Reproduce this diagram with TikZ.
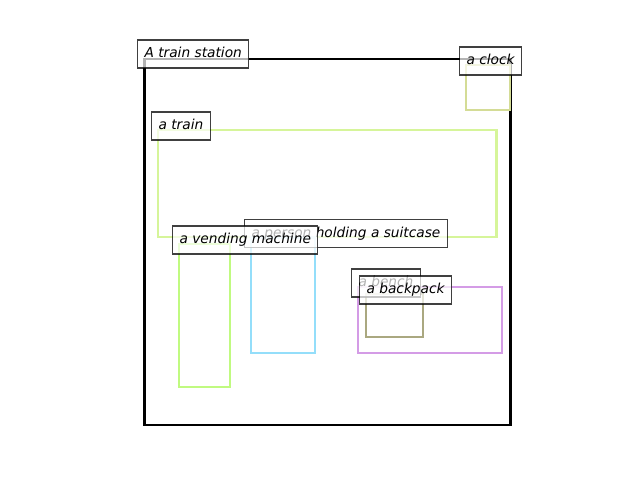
\documentclass[tikz,border=0pt]{standalone}
\usepackage{fontspec}
\setmainfont{DejaVu Sans}
\newfontfamily\labfont{DejaVu Sans Oblique}
\definecolor{cstation}{RGB}{0,0,0}
\definecolor{cclock}{RGB}{212,220,150}
\definecolor{ctrain}{RGB}{214,245,154}
\definecolor{cvend}{RGB}{192,250,128}
\definecolor{cperson}{RGB}{148,222,250}
\definecolor{cbench}{RGB}{212,156,230}
\definecolor{cpack}{RGB}{170,168,128}
\tikzset{
  objbox/.style={line width=1.8pt, line join=miter},
  lab/.style={anchor=west, draw=black, draw opacity=0.75, fill=white, fill opacity=0.7,
    text opacity=1, line width=0.8pt, inner xsep=5.25pt, inner ysep=0pt,
    minimum height=21pt, text height=7.8pt, text depth=2.2pt, font=\labfont\fontsize{10.3pt}{12pt}\selectfont}
}
\begin{document}
\begin{tikzpicture}[x=0.75pt,y=-0.75pt]
\useasboundingbox (0,0) rectangle (640,480);
% rectangles
\draw[objbox, cstation] (144.3,59) rectangle (510.3,424.7);
\draw[objbox, cclock] (466,65) rectangle (510,110);
\draw[objbox, ctrain] (158,130) rectangle (496.3,236.7);
\draw[objbox, cperson] (251,237.5) rectangle (315,353);
\draw[objbox, cvend] (179,244) rectangle (230,387);
\draw[objbox, cbench] (358,287) rectangle (502,353);
\draw[objbox, cpack] (366,294) rectangle (423,337);
% labels
\node[lab] (lstation) at (137,54) {A train station};
\node[lab] (lclock) at (459,61) {a clock};
\node[lab] (ltrain) at (151,126) {a train};
\node[lab] (lperson) at (244,233.5) {a person holding a suitcase};
\node[lab] (lvend) at (172,240) {a vending machine};
\node[lab] (lbench) at (351,283) {a bench};
\node[lab] (lpack) at (359,290) {a backpack};
\end{tikzpicture}
\end{document}
